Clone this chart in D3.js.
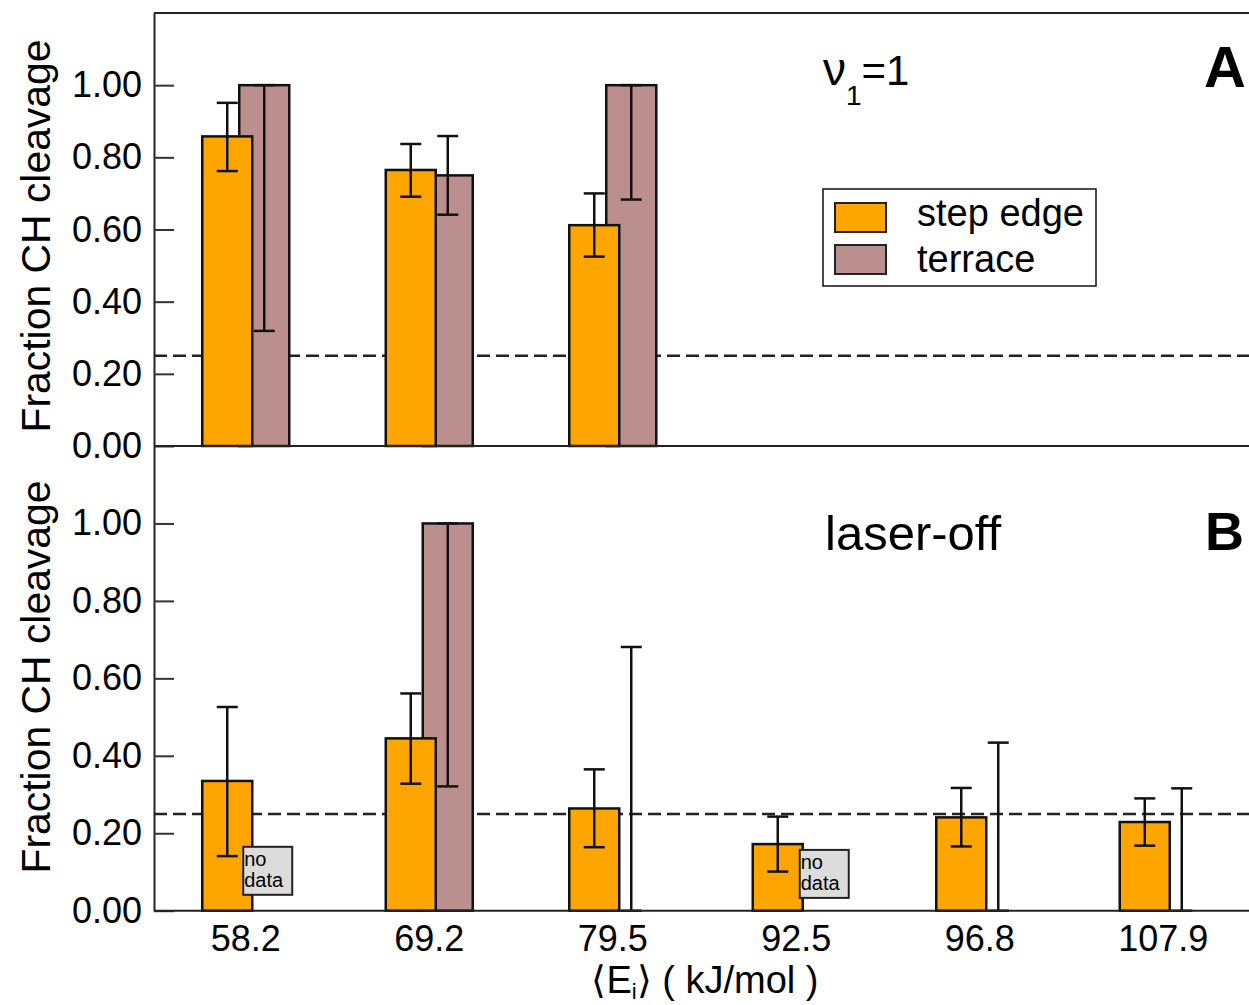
<!DOCTYPE html>
<html>
<head>
<meta charset="utf-8">
<script src="https://cdn.jsdelivr.net/npm/d3@7"></script>
<style>
  html, body { margin: 0; padding: 0; background: #fff; }
  svg { display: block; font-family: "Liberation Sans", Arial, Helvetica, sans-serif; }
</style>
</head>
<body>
<svg id="chart" width="1249" height="1005"></svg>
<script>
// ---------------- data ----------------
const categories = ["58.2", "69.2", "79.5", "92.5", "96.8", "107.9"];
const yTicks = [0, 0.2, 0.4, 0.6, 0.8, 1.0];
const threshold = 0.25;

// Panel A (nu1 = 1)
const stepA    = [0.858, 0.765, 0.612, null, null, null];
const stepALo  = [0.762, 0.691, 0.525, null, null, null];
const stepAHi  = [0.951, 0.837, 0.700, null, null, null];
const terrA    = [1.000, 0.750, 1.000, null, null, null];
const terrALo  = [0.319, 0.641, 0.683, null, null, null];
const terrAHi  = [1.000, 0.859, 1.000, null, null, null];

// Panel B (laser-off)
const stepB    = [0.335, 0.445, 0.264, 0.172, 0.241, 0.229];
const stepBLo  = [0.141, 0.328, 0.164, 0.101, 0.166, 0.168];
const stepBHi  = [0.526, 0.561, 0.365, 0.243, 0.317, 0.290];
const terrB    = [0.000, 1.000, 0.000, 0.000, 0.000, 0.000];
const terrBLo  = [null, 0.321, 0.000, null, 0.000, 0.000];
const terrBHi  = [null, 1.000, 0.681, null, 0.434, 0.316];

// "no data" annotations in panel B
const noDataCats = ["58.2", "92.5"];

const seriesNames = ["step edge", "terrace"];
const colors = { step: "#FFA500", terr: "#BC8F8F" };

// ---------------- layout ----------------
const svg = d3.select("#chart");
const left = 154, right = 1255;
const topA = 13, botA = 446, botB = 910.7;

const x = d3.scaleBand().domain(categories).range([left, right]).padding(0);
const yA = d3.scaleLinear().domain([0, 1.2]).range([botA, topA]);
const yB = d3.scaleLinear().domain([0, 1.2]).range([botB, botA]);

const barW = 50, off = 18.5, capW = 21;
const cx = c => x(c) + x.bandwidth() / 2;

function drawPanel(y, step, stepLo, stepHi, terr, terrLo, terrHi) {
  const g = svg.append("g");
  // threshold dashed line
  g.append("line")
    .attr("x1", left).attr("x2", right)
    .attr("y1", y(threshold)).attr("y2", y(threshold))
    .attr("stroke", "#222").attr("stroke-width", 2.5)
    .attr("stroke-dasharray", "13,6");

  const rows = categories.map((c, i) => ({
    c, s: step[i], sl: stepLo[i], sh: stepHi[i], t: terr[i], tl: terrLo[i], th: terrHi[i]
  }));

  // terrace bars (behind)
  g.selectAll(".terr").data(rows.filter(d => d.t !== null)).join("rect")
    .attr("x", d => cx(d.c) + off - barW / 2)
    .attr("width", barW)
    .attr("y", d => y(d.t))
    .attr("height", d => y(0) - y(d.t))
    .attr("fill", colors.terr).attr("stroke", "#111").attr("stroke-width", 2.5);

  // step edge bars (front)
  g.selectAll(".step").data(rows.filter(d => d.s !== null)).join("rect")
    .attr("x", d => cx(d.c) - off - barW / 2)
    .attr("width", barW)
    .attr("y", d => y(d.s))
    .attr("height", d => y(0) - y(d.s))
    .attr("fill", colors.step).attr("stroke", "#111").attr("stroke-width", 2.5);

  function errBars(data, xc, lo, hi) {
    const eg = g.append("g").attr("stroke", "#111").attr("stroke-width", 2.5);
    data.forEach(d => {
      const xx = xc(d);
      eg.append("line").attr("x1", xx).attr("x2", xx).attr("y1", y(lo(d))).attr("y2", y(hi(d)));
      eg.append("line").attr("x1", xx - capW / 2).attr("x2", xx + capW / 2).attr("y1", y(lo(d))).attr("y2", y(lo(d)));
      eg.append("line").attr("x1", xx - capW / 2).attr("x2", xx + capW / 2).attr("y1", y(hi(d))).attr("y2", y(hi(d)));
    });
  }
  errBars(rows.filter(d => d.sl !== null), d => cx(d.c) - off, d => d.sl, d => d.sh);
  errBars(rows.filter(d => d.tl !== null), d => cx(d.c) + off, d => d.tl, d => d.th);

  // y axis
  const ax = svg.append("g").attr("transform", `translate(${left},0)`)
    .call(d3.axisLeft(y).tickValues(yTicks).tickFormat(d3.format(".2f"))
      .tickSizeInner(-20).tickSizeOuter(0).tickPadding(12));
  ax.select(".domain").attr("stroke", "#222").attr("stroke-width", 2);
  ax.selectAll(".tick line").attr("stroke", "#333").attr("stroke-width", 2);
  ax.selectAll(".tick text").attr("font-size", 36).attr("fill", "#000")
    .attr("font-family", "'Liberation Sans', Arial, sans-serif");
}

drawPanel(yA, stepA, stepALo, stepAHi, terrA, terrALo, terrAHi);
drawPanel(yB, stepB, stepBLo, stepBHi, terrB, terrBLo, terrBHi);

// frame lines
svg.append("line").attr("x1", left).attr("x2", right).attr("y1", topA).attr("y2", topA)
  .attr("stroke", "#222").attr("stroke-width", 2);
svg.append("line").attr("x1", left).attr("x2", right).attr("y1", botA).attr("y2", botA)
  .attr("stroke", "#222").attr("stroke-width", 2);
svg.append("line").attr("x1", left).attr("x2", right).attr("y1", botB).attr("y2", botB)
  .attr("stroke", "#222").attr("stroke-width", 2);

// x axis labels
const xa = svg.append("g").attr("transform", `translate(0,${botB})`)
  .call(d3.axisBottom(x).tickSize(0).tickPadding(15));
xa.select(".domain").remove();
xa.selectAll(".tick text").attr("font-size", 36).attr("fill", "#000")
  .attr("font-family", "'Liberation Sans', Arial, sans-serif");

// "no data" boxes
const noDataPos = { "58.2": { dx: -2.5, yTop: 0.165 }, "92.5": { dx: 3.5, yTop: 0.157 } };
noDataCats.forEach(c => {
  const p = noDataPos[c];
  const bx = cx(c) + p.dx, by = yB(p.yTop);
  svg.append("rect").attr("x", bx).attr("y", by).attr("width", 49).attr("height", 48)
    .attr("fill", "#DCDCDC").attr("stroke", "#222").attr("stroke-width", 2);
  const t = svg.append("text").attr("x", bx + 1).attr("y", by + 19).attr("font-size", 20);
  t.append("tspan").attr("x", bx + 1).text("no");
  t.append("tspan").attr("x", bx + 1).attr("dy", 21).text("data");
});

// y titles
[236, 677].forEach(cy => {
  svg.append("text")
    .attr("transform", `translate(50,${cy}) rotate(-90)`)
    .attr("text-anchor", "middle").attr("font-size", 40)
    .attr("textLength", 393).attr("lengthAdjust", "spacingAndGlyphs")
    .text("Fraction CH cleavage");
});

// x title
const xt = svg.append("text").attr("x", 705).attr("y", 993)
  .attr("text-anchor", "middle").attr("font-size", 38);
xt.append("tspan").text("\u27E8E");
xt.append("tspan").attr("font-size", 22).attr("dy", 6).text("i");
xt.append("tspan").attr("dy", -6).text("\u27E9 ( kJ/mol )");

// panel annotations
const nu = svg.append("text").attr("x", 823).attr("y", 85).attr("font-size", 42);
nu.append("tspan").attr("font-size", 46).text("\u03BD");
nu.append("tspan").attr("font-size", 28).attr("dy", 20).text("1");
nu.append("tspan").attr("dy", -20).text("=1");

svg.append("text").attr("x", 825).attr("y", 550).attr("font-size", 49).text("laser-off");
svg.append("text").attr("x", 1246).attr("y", 87).attr("text-anchor", "end")
  .attr("font-size", 58).attr("font-weight", "bold").text("A");
svg.append("text").attr("x", 1244).attr("y", 550).attr("text-anchor", "end")
  .attr("font-size", 54).attr("font-weight", "bold").text("B");

// legend
const lg = svg.append("g");
lg.append("rect").attr("x", 823).attr("y", 189).attr("width", 273).attr("height", 97)
  .attr("fill", "#fff").attr("stroke", "#111").attr("stroke-width", 1.5);
[colors.step, colors.terr].forEach((col, i) => {
  lg.append("rect").attr("x", 835).attr("y", 203 + i * 42).attr("width", 51).attr("height", 29)
    .attr("fill", col).attr("stroke", "#222").attr("stroke-width", 2);
  lg.append("text").attr("x", 917).attr("y", 226 + i * 46).attr("font-size", 38).text(seriesNames[i]);
});
</script>
</body>
</html>
